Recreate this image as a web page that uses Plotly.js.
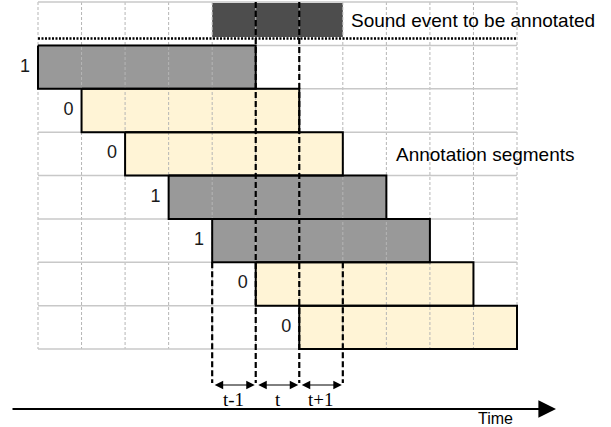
<!DOCTYPE html>
<html><head><meta charset="utf-8">
<script src="https://cdn.plot.ly/plotly-3.0.1.min.js"></script>
<style>html,body{margin:0;padding:0;background:#fff}#chart{width:611px;height:427px}</style>
</head><body><div id="chart"></div>
<script>
// ---- data ----
const segRows = [1, 2, 3, 4, 5, 6, 7];
const segStarts = [0, 1, 2, 3, 4, 5, 6];
const segLengths = [5, 5, 5, 5, 5, 5, 5];
const segLabels = [1, 0, 0, 1, 1, 0, 0];
const eventStart = [4];
const eventLength = [3];
const gridCols = [0, 1, 2, 3, 4, 5, 6, 7, 8, 9, 10, 11];
const gridRows = [0, 1, 2, 3, 4, 5, 6, 7, 8];
const frameStarts = [4, 5, 6];
const frameLabels = ['t-1', 't', 't+1'];
const eventText = 'Sound event to be annotated';
const segText = 'Annotation segments';
const timeText = 'Time';

// ---- styling ----
const GRAY = '#999999', YELLOW = '#fff4d6', EVENT = '#4d4d4d';
const SANS = 'Liberation Sans, Arial, sans-serif';
const SERIF = 'Liberation Serif, Times New Roman, serif';
const colX = px => (px - 38) / 43.545;
const rowY = px => (px - 2) / 43.375;

const traces = [];
// fills
traces.push({
  type: 'bar', orientation: 'h',
  y: segRows.map(r => r + 0.5), x: segLengths, base: segStarts, width: 1,
  marker: {color: segLabels.map(l => l === 1 ? GRAY : YELLOW), line: {width: 0}},
  hoverinfo: 'skip'
});
traces.push({
  type: 'bar', orientation: 'h',
  y: [rowY(20)], x: eventLength, base: eventStart, width: rowY(37) - rowY(3),
  marker: {color: EVENT, line: {width: 0}}, hoverinfo: 'skip'
});
// grid
const gMaxC = gridCols[gridCols.length - 1], gMaxR = gridRows[gridRows.length - 1];
let vx = [], vy = [];
gridCols.forEach(c => { vx.push(c, c, null); vy.push(gridRows[0], gMaxR, null); });
traces.push({type: 'scatter', mode: 'lines', x: vx, y: vy,
  line: {color: '#b5b5b5', width: 1, dash: '3px,2px'}, hoverinfo: 'skip'});
let hx = [], hy = [];
gridRows.forEach(r => { hx.push(gridCols[0], gMaxC, null); hy.push(r, r, null); });
traces.push({type: 'scatter', mode: 'lines', x: hx, y: hy,
  line: {color: '#c8c8c8', width: 1.5}, hoverinfo: 'skip'});
// outlines
let ox = [], oy = [];
segRows.forEach((r, i) => {
  const a = segStarts[i], b = segStarts[i] + segLengths[i];
  ox.push(a, b, b, a, a, null); oy.push(r, r, r + 1, r + 1, r, null);
});
traces.push({type: 'scatter', mode: 'lines', x: ox, y: oy,
  line: {color: '#000', width: 2}, hoverinfo: 'skip'});
// dotted separator
traces.push({type: 'scatter', mode: 'lines', x: [gridCols[0], gMaxC], y: [rowY(38.5), rowY(38.5)],
  line: {color: '#000', width: 2.5, dash: '2px,1.5px'}, hoverinfo: 'skip'});
// frame guide lines
const guideCols = [frameStarts[0], frameStarts[1], frameStarts[2], frameStarts[2] + 1];
const guideTops = [6, 0, 0, 6];
const arrowRow = rowY(385);
let gx = [], gy = [];
guideCols.forEach((c, i) => { gx.push(c, c, null); gy.push(guideTops[i], rowY(383), null); });
traces.push({type: 'scatter', mode: 'lines', x: gx, y: gy,
  line: {color: '#000', width: 2.2, dash: '6px,3px'}, hoverinfo: 'skip'});
// segment labels
traces.push({type: 'scatter', mode: 'text',
  x: segStarts.map(s => s - 0.3), y: segRows.map(r => r + 0.5),
  text: segLabels.map(String), textposition: 'middle center',
  textfont: {family: SANS, size: 18, color: '#1a1a1a'}, hoverinfo: 'skip'});

const annotations = [];
frameStarts.forEach((s, i) => {
  annotations.push({x: s + 1, y: arrowRow, ax: s, ay: arrowRow, xref: 'x', yref: 'y', axref: 'x', ayref: 'y',
    text: ' ', font: {size: 1}, showarrow: true, arrowside: 'end+start', arrowhead: 2, startarrowhead: 2,
    arrowsize: 1.7, startarrowsize: 1.7, arrowwidth: 1, arrowcolor: '#000', standoff: 1, startstandoff: 1});
  annotations.push({x: s + 0.5, y: rowY(399), xref: 'x', yref: 'y', text: frameLabels[i], showarrow: false,
    font: {family: SERIF, size: 19, color: '#000'}});
});
annotations.push({x: colX(556), y: rowY(409), ax: colX(11), ay: rowY(409), xref: 'x', yref: 'y', axref: 'x', ayref: 'y',
  text: ' ', font: {size: 1}, showarrow: true, arrowhead: 2, arrowsize: 1.6, arrowwidth: 2.2, arrowcolor: '#000', standoff: 0});
annotations.push({x: colX(476), y: rowY(418.5), xref: 'x', yref: 'y', text: timeText, showarrow: false,
  xanchor: 'left', font: {family: SANS, size: 16, color: '#000'}});
annotations.push({x: colX(349), y: rowY(20), xref: 'x', yref: 'y', text: eventText, showarrow: false,
  xanchor: 'left', font: {family: SANS, size: 19, color: '#000'}});
annotations.push({x: colX(394), y: rowY(154), xref: 'x', yref: 'y', text: segText, showarrow: false,
  xanchor: 'left', font: {family: SANS, size: 19, color: '#000'}});

const layout = {
  width: 611, height: 427, margin: {l: 0, r: 0, t: 0, b: 0},
  paper_bgcolor: '#fff', plot_bgcolor: '#fff', showlegend: false, barmode: 'overlay',
  xaxis: {range: [colX(0), colX(611)], visible: false, fixedrange: true},
  yaxis: {range: [rowY(427), rowY(0)], visible: false, fixedrange: true},
  annotations: annotations
};
Plotly.newPlot('chart', traces, layout, {displayModeBar: false, staticPlot: true});
</script></body></html>
